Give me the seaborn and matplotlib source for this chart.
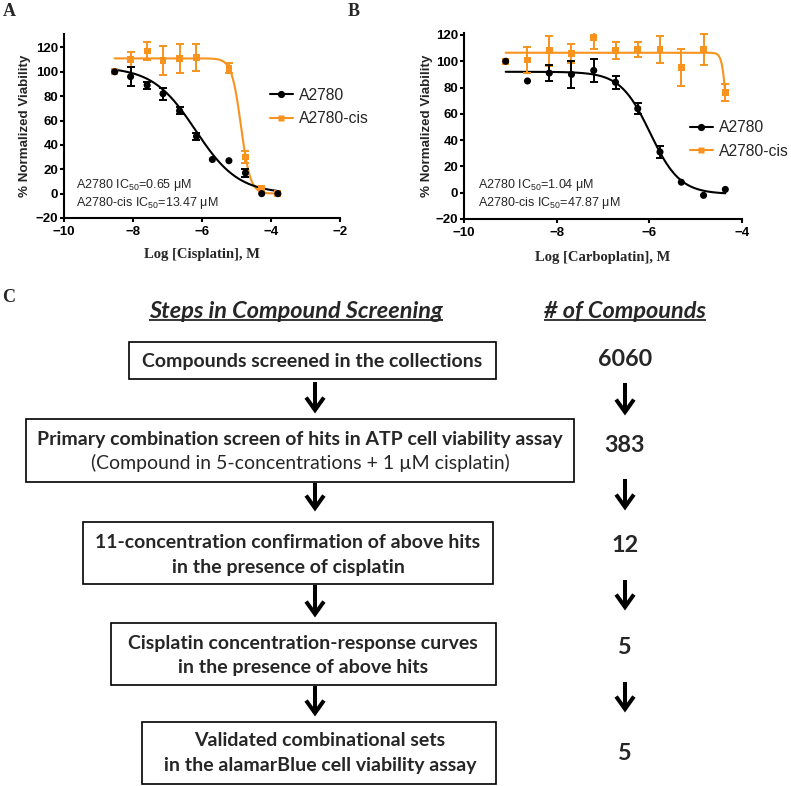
import numpy as np
import pandas as pd
import matplotlib
matplotlib.use("Agg")
import matplotlib.pyplot as plt
import seaborn as sns
from matplotlib.patches import Rectangle, FancyArrowPatch
from matplotlib.lines import Line2D

# ---------------- Panel A data (cisplatin) ----------------
a_logc = [-8.53, -8.07, -7.59, -7.13, -6.65, -6.16, -5.70, -5.22, -4.74, -4.27, -3.80]
a_wt = [100, 96, 89, 82, 68, 47, 28, 27, 17, 0, 0]
a_wt_err = [0, 8, 3, 5, 3, 3, 0, 0, 3.5, 0, 0]
a_cis = [100, 110, 117, 109, 111, 112, np.nan, 103, 30, 4, 0]
a_cis_err = [0, 6, 7.5, 12, 12, 11, np.nan, 4, 5, 0, 0]
# fit parameters: top, bottom, logIC50, hill slope
a_fit_wt = [104, 0, np.log10(0.65e-6), 0.70]
a_fit_cis = [111, 0, np.log10(13.47e-6), 3.2]

# ---------------- Panel B data (carboplatin) ----------------
b_logc = [-9.10, -8.63, -8.16, -7.68, -7.20, -6.73, -6.25, -5.77, -5.31, -4.83, -4.36]
b_wt = [100, 85, 91, 90, 93, 84, 64, 31, 8, -2, 2.5]
b_wt_err = [0, 0, 6, 10, 8.5, 5, 4, 4.5, 0, 0, 0]
b_cis = [100, 101, 108, 106, 118, 108, 109, 109, 95, 109, 76]
b_cis_err = [0, 10, 11.5, 7, 9, 6.5, 6, 10, 14, 12, 6.5]
b_fit_wt = [92, -1, np.log10(1.04e-6), 1.35]
b_fit_cis = [106.5, 0, np.log10(47.87e-6), 9.0]

series_names = ["A2780", "A2780-cis"]

# ---------------- Panel C data ----------------
steps_line1 = ["Compounds screened in the collections",
               "Primary combination screen of hits in ATP cell viability assay",
               "11-concentration confirmation of above hits",
               "Cisplatin concentration-response curves",
               "Validated combinational sets"]
steps_line2 = [None,
               "(Compound in 5-concentrations + 1 \u00b5M cisplatin)",
               "in the presence of cisplatin",
               "in the presence of above hits",
               "in the alamarBlue cell viability assay"]
steps_line2_bold = [False, False, True, True, True]
compound_counts = [6060, 383, 12, 5, 5]

# ---------------- style ----------------
sns.set_theme(style="ticks")
plt.rcParams['font.family'] = ['Liberation Sans', 'DejaVu Sans']
plt.rcParams['mathtext.fontset'] = 'custom'
plt.rcParams['mathtext.rm'] = 'Liberation Sans'
plt.rcParams['mathtext.it'] = 'Liberation Sans:italic'
plt.rcParams['mathtext.bf'] = 'Liberation Sans:bold'
plt.rcParams['mathtext.default'] = 'rm'

ORANGE = '#F7931E'
BLACK = '#000000'
W, H = 791, 786
fig = plt.figure(figsize=(W / 100, H / 100), dpi=100)


def hill(x, top, bottom, logic50, h):
    return bottom + (top - bottom) / (1 + 10 ** ((x - logic50) * h))


def axes_px(l, t, r, b):
    return fig.add_axes([l / W, 1 - b / H, (r - l) / W, (b - t) / H])


def ftext(x, y, s, **kw):
    return fig.text(x / W, 1 - y / H, s, **kw)


def dose_panel(ax, logc, wt, wt_err, cis, cis_err, fit_wt, fit_cis,
               xlim, ylim, xticks, xlabel, xlab_y, ylab_x):
    x = np.asarray(logc, float)
    wt = np.asarray(wt, float)
    cis = np.asarray(cis, float)
    wt_err = np.asarray(wt_err, float)
    cis_err = np.asarray(cis_err, float)
    xs = np.linspace(x.min(), x.max(), 500)
    df = pd.DataFrame({"x": xs, "wt": hill(xs, *fit_wt), "cis": hill(xs, *fit_cis)})
    sns.lineplot(data=df, x="x", y="cis", ax=ax, color=ORANGE, lw=1.5, zorder=2)
    sns.lineplot(data=df, x="x", y="wt", ax=ax, color=BLACK, lw=1.5, zorder=3)
    m = cis_err > 0
    ax.errorbar(x[m], cis[m], yerr=cis_err[m], fmt='none', ecolor=ORANGE,
                elinewidth=1.4, capsize=2.8, capthick=1.4, zorder=4)
    ok = ~np.isnan(cis)
    sns.scatterplot(x=x[ok], y=cis[ok], marker='s', s=24, color=ORANGE,
                    edgecolor='none', ax=ax, zorder=5)
    m = wt_err > 0
    ax.errorbar(x[m], wt[m], yerr=wt_err[m], fmt='none', ecolor=BLACK,
                elinewidth=1.4, capsize=2.8, capthick=1.4, zorder=6)
    sns.scatterplot(x=x, y=wt, marker='o', s=26, color=BLACK,
                    edgecolor='none', ax=ax, zorder=7)
    ax.set_xlim(*xlim)
    ax.set_ylim(*ylim)
    ax.set_xticks(xticks)
    ax.set_yticks(np.arange(-20, 121, 20))
    ax.set_xlabel(xlabel, family='Liberation Serif', weight='bold', fontsize=10.5)
    ax.set_ylabel('% Normalized Viability', weight='bold', fontsize=9.6)
    ax.xaxis.set_label_coords(0.5, xlab_y)
    ax.xaxis.label.set_verticalalignment('center')
    ax.yaxis.set_label_coords(ylab_x, 0.5)
    ax.yaxis.label.set_verticalalignment('center')
    sns.despine(ax=ax)
    for sp in ['left', 'bottom']:
        ax.spines[sp].set_linewidth(1.5)
        ax.spines[sp].set_color(BLACK)
    ax.tick_params(width=1.5, length=2.6, labelsize=9.5, colors=BLACK, pad=1.5)
    ax.tick_params(axis='x', pad=3)
    for lab in ax.get_xticklabels() + ax.get_yticklabels():
        lab.set_fontweight('bold')
    ax.set_facecolor('none')


handles = [Line2D([], [], color=BLACK, marker='o', ms=5.2, lw=1.5, mec='none'),
           Line2D([], [], color=ORANGE, marker='s', ms=5, lw=1.5, mec='none')]

# ---------------- Panel A ----------------
axA = axes_px(64, 34, 340, 218)
dose_panel(axA, a_logc, a_wt, a_wt_err, a_cis, a_cis_err, a_fit_wt, a_fit_cis,
           (-10, -2), (-20, 131), [-10, -8, -6, -4, -2], 'Log [Cisplatin], M', -0.2, -0.141)
legA = axA.legend(handles, series_names, loc='center left', frameon=False,
                  bbox_to_anchor=(270 / W, 1 - 107 / H), bbox_transform=fig.transFigure,
                  fontsize=11.3, handlelength=1.45, handletextpad=0.4,
                  labelspacing=0.55, borderpad=0, borderaxespad=0)
ftext(76, 185, 'A2780 IC$_{50}$=0.65 \u03bcM', fontsize=9, va='center', ha='left')
ftext(76, 203, 'A2780-cis IC$_{50}$=13.47 \u03bcM', fontsize=9, va='center', ha='left')

# ---------------- Panel B ----------------
axB = axes_px(464, 33, 742, 219)
dose_panel(axB, b_logc, b_wt, b_wt_err, b_cis, b_cis_err, b_fit_wt, b_fit_cis,
           (-10, -4), (-20, 121.5), [-10, -8, -6, -4], 'Log [Carboplatin], M', -0.205, -0.133)
legB = axB.legend(handles, series_names, loc='center left', frameon=False,
                  bbox_to_anchor=(690 / W, 1 - 139.5 / H), bbox_transform=fig.transFigure,
                  fontsize=11.3, handlelength=1.45, handletextpad=0.4,
                  labelspacing=0.55, borderpad=0, borderaxespad=0)
ftext(478, 185, 'A2780 IC$_{50}$=1.04 \u03bcM', fontsize=9, va='center', ha='left')
ftext(478, 203, 'A2780-cis IC$_{50}$=47.87 \u03bcM', fontsize=9, va='center', ha='left')

# panel letters
for (px_, py_, letter) in [(9, 11, 'A'), (354, 11, 'B'), (9, 297, 'C')]:
    ftext(px_, py_, letter, family='Liberation Serif', weight='bold', fontsize=13,
          ha='center', va='center')

# ---------------- Panel C (flow chart) ----------------
axC = fig.add_axes([0, 0, 1, 1], zorder=-1)
axC.set_xlim(0, W)
axC.set_ylim(H, 0)
axC.axis('off')
axC.set_facecolor('none')

renderer = fig.canvas.get_renderer()
CFONT = ['Lato', 'DejaVu Sans']


def width_at(s, size=20, **kw):
    t = fig.text(0, 0, s, fontsize=size, family=CFONT, **kw)
    w = t.get_window_extent(renderer).width
    t.remove()
    return w


def fit_size(pairs, **kw):
    return float(np.mean([20 * tw / width_at(s, **kw) for s, tw in pairs]))


bold_size = fit_size([(steps_line1[0], 340), (steps_line1[1], 526), (steps_line1[2], 383),
                      (steps_line1[3], 348)], weight='bold')
reg_size = fit_size([(steps_line2[1], 418)])
num_size = fit_size([("6060", 55), ("383", 40)], weight='bold')
title_size = fit_size([("Steps in Compound Screening", 295), ("# of Compounds", 161)],
                      weight='bold', style='italic')

box_px = [(129, 342, 496, 379), (26, 419, 574, 482), (83, 522, 493, 584),
          (111, 623, 496, 685), (142, 722, 496, 784)]
line_y = [(362, None), (439, 463), (542, 567), (643, 667), (741, 766)]
text_cx = [312, 300, 288, 303, 320]
left_arrows = [(382, 415), (483, 513), (585, 619), (686, 718)]
right_arrows = [(383, 417), (479, 512), (580, 612), (682, 714)]
count_y = [359, 445, 546, 647, 753]
LEFT_X, RIGHT_X = 315, 625

# titles with underline
for cx, s in [(296, "Steps in Compound Screening"), (625, "# of Compounds")]:
    t = axC.text(cx, 312, s, fontsize=title_size, family=CFONT, weight='bold',
                 style='italic', ha='center', va='center')
    bb = t.get_window_extent(renderer)
    axC.plot([cx - bb.width / 2, cx + bb.width / 2], [320, 320], color=BLACK, lw=1.1,
             solid_capstyle='butt')

for i, (l1, l2) in enumerate(zip(steps_line1, steps_line2)):
    l, t, r, b = box_px[i]
    axC.add_patch(Rectangle((l, t), r - l, b - t, fill=False, ec=BLACK, lw=1.2))
    axC.text(text_cx[i], line_y[i][0], l1, fontsize=bold_size, family=CFONT,
             weight='bold', ha='center', va='center')
    if l2 is not None:
        axC.text(text_cx[i], line_y[i][1], l2,
                 fontsize=bold_size if steps_line2_bold[i] else reg_size,
                 family=CFONT, weight='bold' if steps_line2_bold[i] else 'normal',
                 ha='center', va='center')
    axC.text(RIGHT_X, count_y[i], str(compound_counts[i]), fontsize=num_size,
             family=CFONT, weight='bold', ha='center', va='center')

ARROW = '->,head_length=0.45,head_width=0.32'
for xpos, arrows in [(LEFT_X, left_arrows), (RIGHT_X, right_arrows)]:
    for (y0, y1) in arrows:
        axC.add_patch(FancyArrowPatch((xpos, y0), (xpos, y1 - 1.5),
                                      arrowstyle=ARROW, mutation_scale=20, lw=2.9,
                                      color=BLACK, shrinkA=0, shrinkB=0,
                                      joinstyle='miter', capstyle='butt'))

fig.savefig("out.png", dpi=100)
